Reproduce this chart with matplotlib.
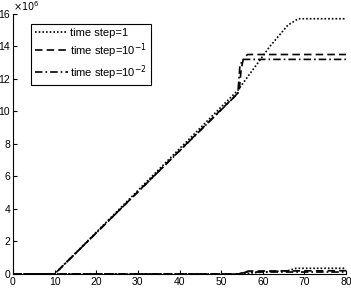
import numpy as np
import matplotlib.pyplot as plt

plt.rcParams['font.family'] = ['Liberation Sans', 'DejaVu Sans']

# main curves (units of 1e6)
t_dot = [0, 10, 54, 61.7, 66, 68.5, 80]
y_dot = [0, 0, 11.3, 14.0, 15.3, 15.7, 15.7]
t_dash = [0, 10, 54.3, 54.8, 55.3, 56.3, 80]
y_dash = [0, 0, 11.2, 12.6, 13.2, 13.5, 13.5]
t_dd = [0, 10, 54.0, 54.5, 55.2, 80]
y_dd = [0, 0, 11.1, 12.8, 13.2, 13.2]

# lower curves (near zero)
t_dot_lo = [0, 54, 60, 66, 68, 80]
y_dot_lo = [0, 0, 0.12, 0.2, 0.35, 0.35]
t_dash_lo = [0, 54, 55.5, 56.5, 80]
y_dash_lo = [0, 0, 0.08, 0.18, 0.2]
t_dd_lo = [0, 54, 55, 56, 80]
y_dd_lo = [0, 0, 0.05, 0.12, 0.12]

labels = ['time step=1', 'time step=10$^{-1}$', 'time step=10$^{-2}$']

fig = plt.figure(figsize=(3.51, 2.89), dpi=100)
ax = fig.add_axes([0.037, 0.052, 0.949, 0.90])

dot = (0, (1, 1.2))
dash = (0, (4.5, 2.5))
dd = (0, (4.5, 1.8, 1, 1.8))
lw = 1.2
ax.plot(t_dot, y_dot, color='black', linestyle=dot, lw=lw, label=labels[0])
ax.plot(t_dash, y_dash, color='black', linestyle=dash, lw=lw, label=labels[1])
ax.plot(t_dd, y_dd, color='black', linestyle=dd, lw=lw, label=labels[2])
ax.plot(t_dot_lo, y_dot_lo, color='black', linestyle=dot, lw=lw)
ax.plot(t_dash_lo, y_dash_lo, color='black', linestyle=dash, lw=lw)
ax.plot(t_dd_lo, y_dd_lo, color='black', linestyle=dd, lw=lw)

ax.set_xlim(0, 80)
ax.set_ylim(0, 16)
ax.set_xticks(np.arange(0, 81, 10))
ax.set_yticks(np.arange(0, 17, 2))
ax.tick_params(direction='in', length=3, labelsize=7.5, pad=2)
ax.spines['top'].set_visible(False)
ax.spines['right'].set_visible(False)
ax.text(0.0, 1.005, r'$\times10^6$', transform=ax.transAxes, fontsize=7, ha='left', va='bottom')

leg = ax.legend(loc='upper left', bbox_to_anchor=(0.054, 0.962), borderaxespad=0,
                fontsize=8, handlelength=3.0, handletextpad=0.2, borderpad=0.35,
                labelspacing=0.3, fancybox=False, framealpha=1)
leg.get_frame().set_edgecolor('black')
leg.get_frame().set_linewidth(0.8)

fig.savefig('out.png', dpi=100)
